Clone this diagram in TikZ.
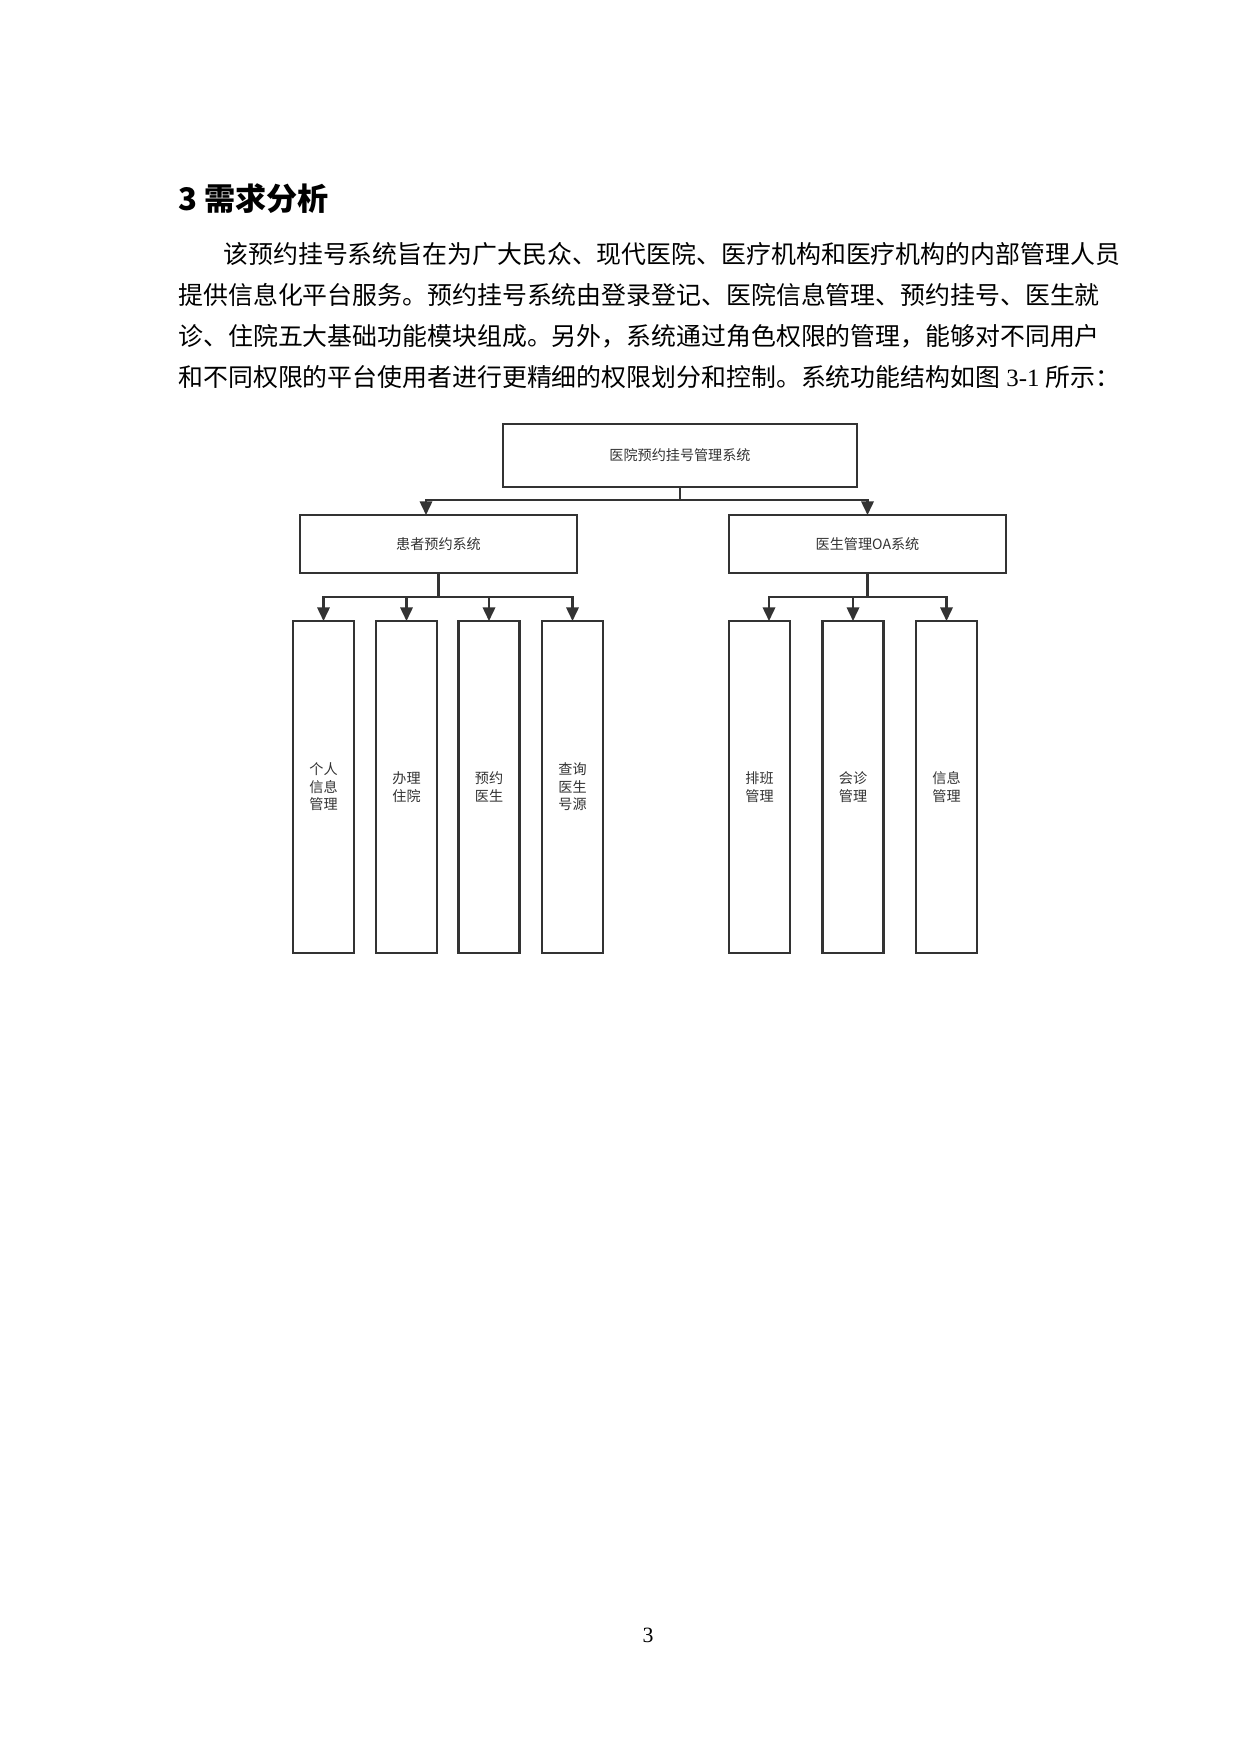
\documentclass[tikz,border=0pt]{standalone}
\usepackage{fontspec}
\setmainfont{Liberation Serif}
\newfontfamily\cjk{Noto Sans CJK SC}
\usetikzlibrary{arrows.meta}
\def\px{0.16935mm}
\definecolor{ink}{HTML}{333333}
\begin{document}
\begin{tikzpicture}[x=0.16935mm,y=-0.16935mm,
  box/.style={draw=ink, line width=1pt, fill=white, inner sep=0pt, outer sep=0pt,
    text=ink, font=\cjk\fontsize{6.8}{8.4}\selectfont, align=center},
  midbox/.style={box, minimum width=277*\px, minimum height=58*\px},
  leaf/.style={box, minimum width=61*\px, minimum height=332*\px},
  conn/.style={draw=ink, line width=1pt},
  arr/.style={conn, -{Triangle[width=2.1mm,length=2.3mm]}},
  body/.style={anchor=base west, inner sep=0pt, font=\cjk\fontsize{12}{12}\selectfont}]
\useasboundingbox[fill=white] (0,0) rectangle (1240,1754);

% heading and paragraph
\node[anchor=base west, inner sep=0pt, font=\cjk\bfseries\fontsize{15}{15}\selectfont] (title) at (178,210) {3 需求分析};
\node[body] (l1) at (223,263.5) {该预约挂号系统旨在为广大民众、现代医院、医疗机构和医疗机构的内部管理人员};
\node[body] (l2) at (178,304.5) {提供信息化平台服务。预约挂号系统由登录登记、医院信息管理、预约挂号、医生就};
\node[body] (l3) at (178,345.5) {诊、住院五大基础功能模块组成。另外，系统通过角色权限的管理，能够对不同用户};
\node[body] (l4) at (178,386.5) {和不同权限的平台使用者进行更精细的权限划分和控制。系统功能结构如图{\rmfamily\ 3-1 }所示：};

% diagram
\node[box, minimum width=354*\px, minimum height=63*\px] (top) at (680,455.5) {医院预约挂号管理系统};
\node[midbox] (pat) at (438.5,544) {患者预约系统};
\node[midbox] (doc) at (867.5,544) {医生管理OA系统};

\node[leaf] (a1) at (323.5,787) {个人\\信息\\管理};
\node[leaf] (a2) at (406.5,787) {办理\\住院};
\node[leaf] (a3) at (489,787) {预约\\医生};
\node[leaf] (a4) at (572.5,787) {查询\\医生\\号源};
\node[leaf] (b1) at (759.5,787) {排班\\管理};
\node[leaf] (b2) at (853,787) {会诊\\管理};
\node[leaf] (b3) at (946.5,787) {信息\\管理};

\coordinate (jt) at (681,500);
\coordinate (pL) at (426,515);
\coordinate (jp) at (439,597);
\coordinate (jd) at (867,597);
\coordinate (b1t) at (769,621);

\draw[conn] (top.south) -- (top.south |- jt);
\draw[arr] (top.south |- jt) -| (pL);
\draw[arr] (top.south |- jt) -| (doc.north);

\draw[conn] (pat.south) -- (pat.south |- jp);
\foreach \n in {a1,a2,a3,a4} \draw[arr] (pat.south |- jp) -| (\n.north);

\draw[conn] (doc.south) -- (doc.south |- jd);
\draw[arr] (doc.south |- jd) -| (b1t);
\draw[arr] (doc.south |- jd) -| (b2.north);
\draw[arr] (doc.south |- jd) -| (b3.north);

% page number
\node[anchor=base, inner sep=0pt, font=\rmfamily\fontsize{10.5}{10.5}\selectfont] (pg) at (648,1642) {3};
\end{tikzpicture}
\end{document}
